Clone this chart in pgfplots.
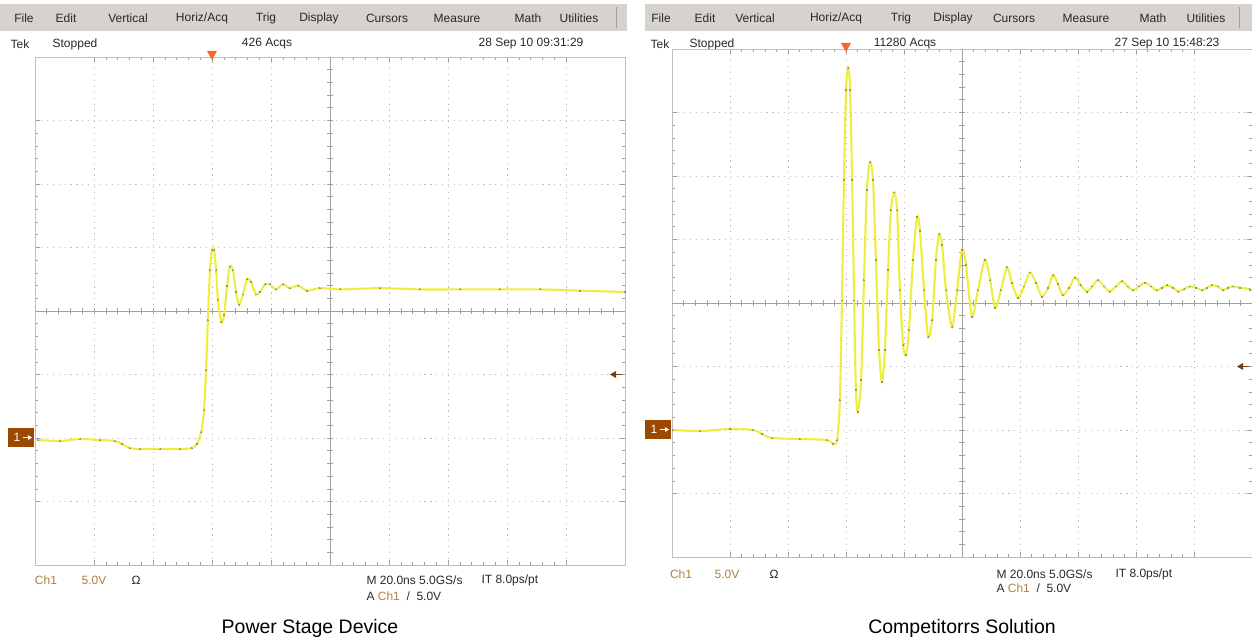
\documentclass[border=0pt]{standalone}
\usepackage{fontspec}
\setmainfont{Liberation Sans}
\usepackage{pgfplots}
\pgfplotsset{compat=1.18}

\definecolor{tracecol}{RGB}{238,238,64}
\definecolor{dotc}{RGB}{150,150,110}
\definecolor{menubg}{RGB}{214,211,206}
\definecolor{chtan}{RGB}{176,128,64}
\definecolor{gndbox}{RGB}{156,72,0}
\definecolor{trigorange}{RGB}{250,100,40}
\definecolor{lvl}{RGB}{120,60,20}
\definecolor{uitext}{RGB}{40,40,40}
\definecolor{gridc}{RGB}{190,190,190}
\definecolor{cline}{RGB}{160,160,160}

% one Tek screen: 10 x 8 divisions, 20 ns/div, 5 V/div, ground 2 div below centre
\pgfplotsset{
  tekscreen/.style={
    height=508pt, scale only axis,
    xmin=-60, xmax=140, ymin=-10, ymax=30,
    xtick={-40,-20,...,120}, ytick={-5,0,...,25},
    xticklabels={}, yticklabels={},
    minor x tick num=4, minor y tick num=4,
    tick align=inside, tickpos=both,
    major tick length=5pt, minor tick length=3pt,
    every tick/.style={cline, line width=0.6pt},
    grid=major, major grid style={gridc, line width=0.9pt, dash pattern=on 1.2pt off 4.7pt},
    axis line style={gridc, line width=0.8pt},
    clip=false,
  },
  wave/.style={tracecol, line width=2.1pt, smooth, tension=0.45,
    mark=*, mark size=0.45pt, mark options={draw=dotc, fill=dotc, line width=0pt}},
}

\newcommand{\ui}{\fontsize{12}{12}\selectfont}

\newcommand{\centrecross}{%
  \draw[cline, line width=0.8pt] (axis cs:40,-10) -- (axis cs:40,30);
  \draw[cline, line width=0.8pt] (axis cs:-60,10) -- (axis cs:140,10);
  \pgfplotsinvokeforeach{-56,-52,...,136}{\draw[cline, line width=0.6pt] (axis cs:##1,10) ++(0pt,-3pt) -- ++(0pt,6pt);}
  \pgfplotsinvokeforeach{-9,-8,...,29}{\draw[cline, line width=0.6pt] (axis cs:40,##1) ++(-3pt,0pt) -- ++(6pt,0pt);}
}
\newcommand{\markers}{%
  % trigger position
  \fill[trigorange] (axis cs:0,30) ++(-5pt,6pt) -- ++(10pt,0pt) -- ++(-5pt,-9pt) -- cycle;
  % ground reference of Ch1
  \fill[gndbox] (axis cs:-60,0) ++(-27pt,-9pt) rectangle ++(26pt,19pt);
  \path (axis cs:-60,0) ++(-18pt,0.5pt) node[white, font=\ui] {1};
  \draw[white, line width=1pt] (axis cs:-60,0) ++(-12pt,0.5pt) -- ++(6pt,0pt);
  \fill[white] (axis cs:-60,0) ++(-3pt,0.5pt) -- ++(-4pt,2.5pt) -- ++(0pt,-5pt) -- cycle;
  % trigger level
  \draw[lvl, line width=1.2pt] (axis cs:140,5) ++(-3pt,0pt) -- ++(-8pt,0pt);
  \fill[lvl] (axis cs:140,5) ++(-15pt,0pt) -- ++(6pt,3.5pt) -- ++(0pt,-7pt) -- cycle;
}

\begin{document}
\begin{tikzpicture}[x=1pt, y=1pt]
\useasboundingbox (0,0) rectangle (1252,640);

% ---------- left screen: Power Stage Device ----------
\fill[menubg] (0,609) rectangle (627,636);
\draw[cline] (616,612) -- (616,633);
\foreach \x/\t in {24/File, 66/Edit, 128/Vertical, 202/Horiz\slash Acq, 266/Trig,
                   319/Display, 387/Cursors, 457/Measure, 528/Math, 579/Utilities}
  \node[uitext, font=\ui] at (\x,622) {\t};
\node[uitext, font=\ui] at (20,596) {Tek};
\node[uitext, font=\ui] at (75,596) {Stopped};
\node[uitext, font=\ui] at (267,596) {426 Acqs};
\node[uitext, font=\ui] at (531,596) {28 Sep 10 09:31:29};

\begin{axis}[tekscreen, width=590pt, at={(35pt,75pt)}, anchor=south west]
  \centrecross
  \addplot[wave] coordinates {
    (-59.0,-0.16) (-51.5,-0.24) (-44.7,-0.08) (-38.0,-0.16) (-32.9,-0.24)
    (-30.5,-0.47) (-27.8,-0.79) (-24.4,-0.87) (-17.6,-0.87) (-10.8,-0.87)
    (-6.8,-0.79) (-5.1,-0.47) (-3.7,0.47) (-2.7,2.20) (-2.0,5.35)
    (-1.4,9.29) (-0.7,13.2) (0.0,14.8) (0.7,14.8) (1.4,13.2)
    (2.0,10.9) (3.1,9.13) (4.1,9.69) (5.1,12.0) (6.1,13.5)
    (7.1,13.2) (8.1,11.5) (9.2,10.5) (10.5,11.3) (11.9,12.5)
    (13.2,12.3) (14.9,11.3) (16.3,11.5) (18.0,12.1) (19.7,12.1)
    (21.7,11.7) (24.1,12.1) (26.4,11.8) (29.2,12.0) (32.2,11.6)
    (36.6,11.8) (43.4,11.7) (56.9,11.8) (70.5,11.7) (84.1,11.7)
    (97.6,11.7) (111.2,11.7) (124.7,11.6) (140.0,11.5)
  };
  \markers
\end{axis}

\node[chtan, font=\ui] at (46,60) {Ch1};
\node[chtan, font=\ui] at (94,60) {5.0V};
\node[uitext, font=\ui] at (136,60) {\char"03A9};
\node[uitext, font=\ui, anchor=west] at (363,60) {M 20.0ns 5.0GS/s};
\node[uitext, font=\ui, anchor=west] at (478,60) {IT 8.0ps/pt};
\node[uitext, font=\ui, anchor=west] at (363,44) {A \textcolor{chtan}{Ch1} \ / \ 5.0V};
\node[font=\fontsize{19.5}{20}\selectfont] at (310,12) {Power Stage Device};

% ---------- right screen: Competitor ----------
\fill[menubg] (645,609) rectangle (1252,636);
\draw[cline] (1239,612) -- (1239,633);
\foreach \x/\t in {661/File, 705/Edit, 755/Vertical, 836/Horiz\slash Acq, 901/Trig,
                   953/Display, 1014/Cursors, 1086/Measure, 1153/Math, 1206/Utilities}
  \node[uitext, font=\ui] at (\x,622) {\t};
\node[uitext, font=\ui] at (660,596) {Tek};
\node[uitext, font=\ui] at (712,596) {Stopped};
\node[uitext, font=\ui] at (905,596) {11280 Acqs};
\node[uitext, font=\ui] at (1167,596) {27 Sep 10 15:48:23};

\begin{axis}[tekscreen, width=580pt, at={(672pt,83pt)}, anchor=south west]
  \centrecross
  \addplot[wave] coordinates {
    (-59.7,0) (-50.3,-0.08) (-40.0,0.08) (-32.1,0) (-29.0,-0.31)
    (-25.5,-0.63) (-15.9,-0.71) (-6.6,-0.79) (-4.5,-1.10) (-3.1,-0.79)
    (-2.1,2.36) (-1.4,10.2) (-0.7,19.7) (0.0,26.8) (0.7,28.5)
    (1.4,26.8) (2.1,19.7) (2.8,10.2) (3.4,3.15) (4.1,1.42)
    (5.2,3.94) (6.2,11.8) (7.2,18.9) (8.3,21.1) (9.3,19.7)
    (10.3,13.4) (11.4,6.30) (12.4,3.78) (13.4,6.30) (14.5,12.6)
    (15.5,17.3) (16.6,18.7) (17.6,17.3) (18.6,11.0) (19.7,6.69)
    (20.7,5.91) (21.7,7.87) (23.1,13.4) (24.5,16.8) (25.5,15.7)
    (26.9,11.0) (28.3,7.32) (29.7,8.66) (31.0,13.4) (32.1,15.4)
    (33.1,14.6) (34.5,11.0) (36.6,8.11) (38.3,11.0) (40.0,14.2)
    (41.4,13.0) (43.4,8.90) (45.5,11.0) (47.9,13.4) (49.7,11.8)
    (51.4,9.61) (53.4,11.0) (55.5,12.8) (57.2,11.6) (59.3,10.4)
    (61.4,11.3) (63.4,12.4) (65.5,11.6) (67.6,10.5) (69.7,11.2)
    (71.4,12.2) (73.1,11.5) (74.8,10.6) (76.9,11.2) (79.0,12.0)
    (81.0,11.4) (83.1,10.9) (84.8,11.3) (86.9,11.8) (89.0,11.3)
    (91.0,10.9) (93.1,11.3) (95.2,11.7) (97.2,11.3) (99.0,11.0)
    (101.0,11.3) (103.1,11.6) (105.2,11.3) (107.2,11.0) (109.0,11.2)
    (110.7,11.4) (112.8,11.2) (114.5,10.9) (116.6,11.1) (118.6,11.3)
    (120.7,11.2) (122.8,11.0) (124.5,11.2) (126.2,11.4) (128.3,11.3)
    (130.0,11.0) (131.7,11.2) (133.4,11.3) (135.9,11.2) (139.3,11.1)
  };
  \markers
\end{axis}

\node[chtan, font=\ui] at (681,66) {Ch1};
\node[chtan, font=\ui] at (727,66) {5.0V};
\node[uitext, font=\ui] at (774,66) {\char"03A9};
\node[uitext, font=\ui, anchor=west] at (993,66) {M 20.0ns 5.0GS/s};
\node[uitext, font=\ui, anchor=west] at (1112,66) {IT 8.0ps/pt};
\node[uitext, font=\ui, anchor=west] at (993,52) {A \textcolor{chtan}{Ch1} \ / \ 5.0V};
\node[font=\fontsize{19.5}{20}\selectfont] at (962,12) {Competitorrs Solution};
\end{tikzpicture}
\end{document}
